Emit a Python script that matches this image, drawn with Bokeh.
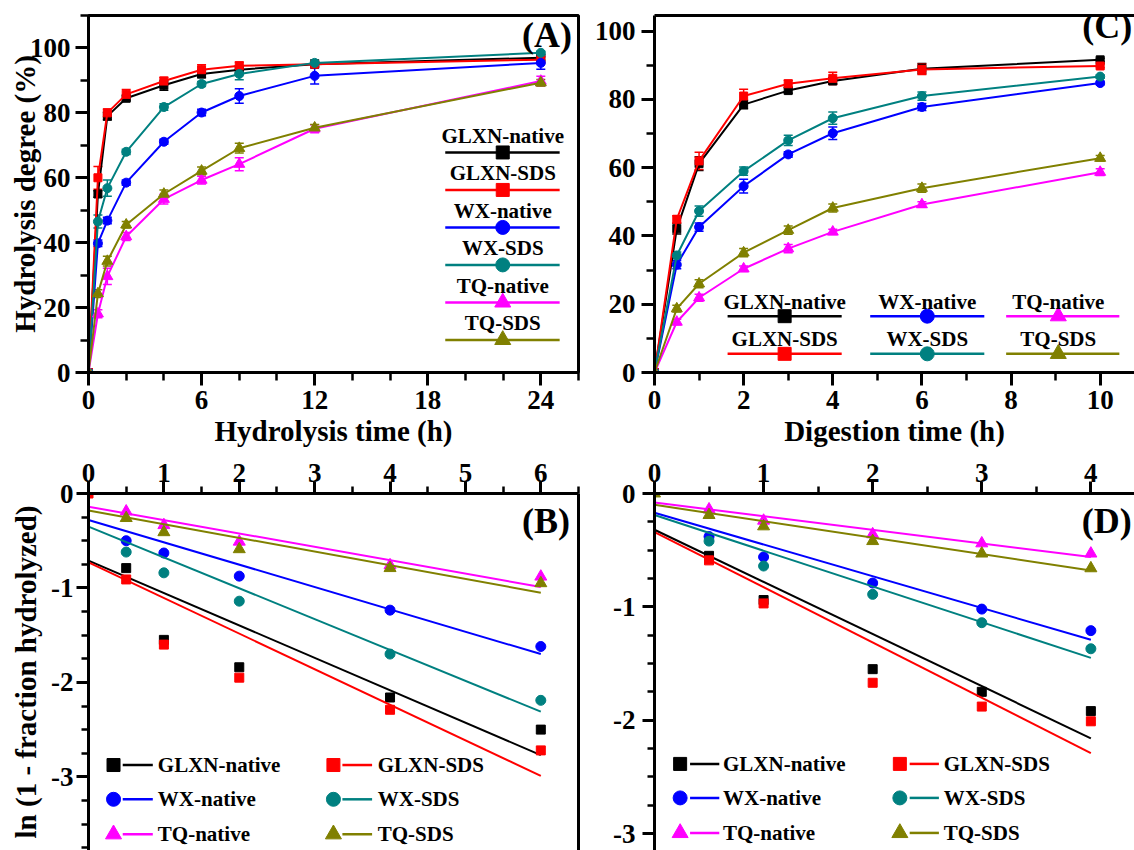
import math
from bokeh.plotting import figure
from bokeh.models import (SingleIntervalTicker, LinearAxis, FixedTicker, Whisker,
                          TeeHead, ColumnDataSource, Range1d, CustomJSTickFormatter)
from bokeh.layouts import column, row
from bokeh.core.properties import value
from bokeh.embed import file_html
from bokeh.resources import INLINE

NAN = float("nan")
FONT = "Liberation Serif"

# ---------------- data ----------------
series_names = ["GLXN-native", "GLXN-SDS", "WX-native", "WX-SDS", "TQ-native", "TQ-SDS"]
series_colors = ["#000000", "#FF0000", "#0000FF", "#008080", "#FF00FF", "#808000"]
series_markers = ["square", "square", "circle", "circle", "triangle", "triangle"]

# (A) hydrolysis degree (%) vs hydrolysis time (h)
A_time = [0, 0.5, 1, 2, 4, 6, 8, 12, 24]
A_glxn_native = [0, 55.0, 79.0, 84.5, 88.5, 92.0, 93.3, 95.0, 97.0]
A_glxn_sds = [0, 60.0, 80.0, 85.7, 89.8, 93.3, 94.5, 95.0, 96.4]
A_wx_native = [0, 39.8, 46.8, 58.5, 71.1, 80.1, 85.2, 91.4, 95.4]
A_wx_sds = [0, 46.5, 56.8, 68.0, 81.8, 88.9, 92.0, 95.4, 98.5]
A_tq_native = [0, 18.1, 29.6, 41.9, 53.4, 59.3, 64.2, 75.1, 89.8]
A_tq_sds = [0, 24.3, 34.3, 45.5, 55.0, 62.1, 69.1, 75.4, 89.3]
A_err_glxn_native = [0, 1.0, 1.2, 0.8, 1.5, 1.2, 1.2, 0.8, 0.8]
A_err_glxn_sds = [0, 3.5, 1.2, 1.5, 1.2, 1.5, 1.2, 0.5, 0.8]
A_err_wx_native = [0, 1.0, 1.0, 0.8, 0.8, 1.0, 2.2, 2.5, 2.0]
A_err_wx_sds = [0, 2.0, 2.5, 0.8, 1.0, 0.8, 1.8, 1.0, 0.5]
A_err_tq_native = [0, 1.2, 2.5, 1.2, 1.5, 1.2, 2.0, 1.2, 1.5]
A_err_tq_sds = [0, 1.2, 1.5, 1.0, 1.2, 1.2, 1.5, 1.0, 1.0]

# (C) hydrolysis degree (%) vs digestion time (h)
C_time = [0, 0.5, 1, 2, 3, 4, 6, 10]
C_glxn_native = [0, 42.1, 61.2, 78.5, 82.6, 85.4, 89.0, 91.6]
C_glxn_sds = [0, 44.9, 62.0, 81.0, 84.6, 86.2, 88.8, 89.8]
C_wx_native = [0, 31.6, 42.6, 54.6, 63.9, 70.1, 77.8, 84.8]
C_wx_sds = [0, 34.3, 47.3, 59.0, 68.0, 74.5, 81.0, 86.7]
C_tq_native = [0, 14.8, 21.9, 30.4, 36.3, 41.2, 49.2, 58.7]
C_tq_sds = [0, 18.7, 26.0, 35.1, 41.7, 48.2, 54.0, 62.8]
C_err_glxn_native = [0, 1.5, 2.0, 1.2, 0.8, 0.8, 1.5, 0.5]
C_err_glxn_sds = [0, 1.0, 2.5, 2.0, 1.0, 1.8, 1.5, 0.5]
C_err_wx_native = [0, 1.2, 1.2, 2.0, 0.8, 1.8, 1.0, 0.5]
C_err_wx_sds = [0, 1.0, 1.5, 1.2, 1.5, 1.8, 1.2, 0.5]
C_err_tq_native = [0, 0.8, 1.0, 0.8, 1.2, 0.8, 0.8, 1.0]
C_err_tq_sds = [0, 1.0, 1.2, 1.2, 1.2, 1.2, 1.2, 0.8]

# (B) ln(1 - fraction hydrolyzed) vs hydrolysis time (h)
B_time = [0, 0.5, 1, 2, 4, 6]
B_glxn_native = [NAN, -0.79, -1.55, -1.84, -2.16, -2.50]
B_glxn_sds = [0.0, -0.91, -1.60, -1.95, -2.29, -2.72]
B_wx_native = [NAN, -0.50, -0.63, -0.875, -1.235, -1.62]
B_wx_sds = [NAN, -0.62, -0.84, -1.14, -1.70, -2.19]
B_tq_native = [NAN, -0.19, -0.335, -0.51, -0.76, -0.88]
B_tq_sds = [NAN, -0.26, -0.41, -0.59, -0.79, -0.95]
B_fit_time = [0, 6]
B_fit_start = [-0.71, -0.73, -0.28, -0.35, -0.14, -0.18]
B_fit_end = [-2.77, -2.99, -1.70, -2.31, -0.99, -1.05]

# (D) ln(1 - fraction hydrolyzed) vs digestion time (h)
D_time = [0, 0.5, 1, 2, 3, 4]
D_glxn_native = [NAN, -0.55, -0.94, -1.55, -1.75, -1.92]
D_glxn_sds = [NAN, -0.59, -0.97, -1.67, -1.88, -2.01]
D_wx_native = [NAN, -0.38, -0.56, -0.79, -1.02, -1.21]
D_wx_sds = [NAN, -0.42, -0.64, -0.89, -1.14, -1.37]
D_tq_native = [NAN, -0.14, -0.24, -0.36, -0.44, -0.53]
D_tq_sds = [0.0, -0.19, -0.29, -0.42, -0.53, -0.66]
D_fit_time = [0, 4]
D_fit_start = [-0.32, -0.34, -0.17, -0.19, -0.08, -0.10]
D_fit_end = [-2.16, -2.29, -1.29, -1.45, -0.56, -0.68]

A_series = [A_glxn_native, A_glxn_sds, A_wx_native, A_wx_sds, A_tq_native, A_tq_sds]
A_errs = [A_err_glxn_native, A_err_glxn_sds, A_err_wx_native, A_err_wx_sds, A_err_tq_native, A_err_tq_sds]
C_series = [C_glxn_native, C_glxn_sds, C_wx_native, C_wx_sds, C_tq_native, C_tq_sds]
C_errs = [C_err_glxn_native, C_err_glxn_sds, C_err_wx_native, C_err_wx_sds, C_err_tq_native, C_err_tq_sds]
B_series = [B_glxn_native, B_glxn_sds, B_wx_native, B_wx_sds, B_tq_native, B_tq_sds]
D_series = [D_glxn_native, D_glxn_sds, D_wx_native, D_wx_sds, D_tq_native, D_tq_sds]

MARK_SIZE = {"square": 8, "circle": 9, "triangle": 11}
LEG_SIZE = {"square": 13, "circle": 14, "triangle": 16}


# ---------------- helpers ----------------
def make_fig(w, h, xr, yr, mbl, mbr, mbt, mbb, x_loc):
    p = figure(width=w, height=h, x_range=Range1d(*xr), y_range=Range1d(*yr),
               output_backend="svg", toolbar_location=None, x_axis_location=x_loc,
               min_border_left=mbl, min_border_right=mbr, min_border_top=mbt,
               min_border_bottom=mbb)
    p.grid.visible = False
    p.background_fill_color = "white"
    p.border_fill_color = "white"
    p.outline_line_color = "black"
    p.outline_line_width = 3
    return p


def style_axis(ax, ticker, tick_len=13, minor_len=8, standoff=4, label_standoff=2):
    ax.ticker = ticker
    ax.axis_line_width = 3
    ax.axis_line_color = "black"
    ax.major_tick_line_width = 3
    ax.minor_tick_line_width = 2.5
    ax.major_tick_in = 0
    ax.major_tick_out = tick_len
    ax.minor_tick_in = 0
    ax.minor_tick_out = minor_len
    ax.major_label_text_font = FONT
    ax.major_label_text_font_style = "bold"
    ax.major_label_text_font_size = "27px"
    ax.major_label_text_color = "black"
    ax.axis_label_text_font = FONT
    ax.axis_label_text_font_style = "bold"
    ax.axis_label_text_font_size = "29px"
    ax.axis_label_text_color = "black"
    ax.major_label_standoff = standoff
    ax.axis_label_standoff = label_standoff
    ax.formatter = CustomJSTickFormatter(code="return tick.toFixed(0);")


def border_axis(p, side):
    ax = LinearAxis(ticker=FixedTicker(ticks=[]))
    ax.axis_line_width = 3
    ax.axis_line_color = "black"
    ax.major_tick_out = 0
    ax.major_tick_in = 0
    ax.minor_tick_out = 0
    ax.minor_tick_in = 0
    ax.major_label_standoff = 0
    p.add_layout(ax, side)


def draw_curves(p, xs, series, errs):
    for vals, err, c, m in zip(series, errs, series_colors, series_markers):
        p.line(xs, vals, line_color=c, line_width=2)
        upper = [v + e for v, e in zip(vals, err)]
        lower = [v - e for v, e in zip(vals, err)]
        src = ColumnDataSource(dict(x=xs, upper=upper, lower=lower))
        p.add_layout(Whisker(source=src, base="x", upper="upper", lower="lower",
                             line_color=c, line_width=1.5,
                             upper_head=TeeHead(size=9, line_color=c, line_width=1.5),
                             lower_head=TeeHead(size=9, line_color=c, line_width=1.5)))
        p.scatter(xs, vals, marker=m, size=MARK_SIZE[m], fill_color=c, line_color=c)


def draw_linear(p, xs, series, fit_x, starts, ends):
    for vals, s, e, c, m in zip(series, starts, ends, series_colors, series_markers):
        p.line(fit_x, [s, e], line_color=c, line_width=2)
        p.scatter(xs, vals, marker=m, size=MARK_SIZE[m] + 1, fill_color=c, line_color=c)


def txt(p, x, y, s, size, align="center"):
    p.text(x=[x], y=[y], text=[s], text_font=value(FONT), text_font_style="bold",
           text_font_size=size, text_align=align, text_baseline="middle",
           text_color="black")


def stacked_entry(p, x0, x1, xm, y, dy, name, c, m):
    p.segment(x0=[x0], y0=[y], x1=[x1], y1=[y], line_color=c, line_width=2.5)
    p.scatter([xm], [y], marker=m, size=LEG_SIZE[m], fill_color=c, line_color=c)
    txt(p, xm, y + dy, name, "21px")


def inline_entry(p, xm, x0, x1, xt, y, name, c, m):
    p.scatter([xm], [y], marker=m, size=LEG_SIZE[m], fill_color=c, line_color=c)
    p.segment(x0=[x0], y0=[y], x1=[x1], y1=[y], line_color=c, line_width=2.5)
    txt(p, xt, y, name, "21px", align="left")


TOP_H = 450
BOT_H = 400

# ---------------- panel A ----------------
pA = make_fig(580, TOP_H, (0, 26), (0, 110), 88, 2, 15, TOP_H - 372, "below")
draw_curves(pA, A_time, A_series, A_errs)
pA.below[0].axis_label = "Hydrolysis time (h)"
pA.left[0].axis_label = "Hydrolysis degree (%)"
style_axis(pA.below[0], SingleIntervalTicker(interval=6, num_minor_ticks=3),
           standoff=5, label_standoff=3)
style_axis(pA.left[0], SingleIntervalTicker(interval=20, num_minor_ticks=2),
           standoff=5, label_standoff=-14)
for i in range(6):
    stacked_entry(pA, 18.93, 25.0, 21.98, 67.8 - i * 11.55, 5.1,
                  series_names[i], series_colors[i], series_markers[i])
txt(pA, 23.0, 103.9, "(A)", "36px", align="left")

# ---------------- panel C ----------------
pC = make_fig(554, TOP_H, (0, 10.77), (0, 104.6), 74, 0, 15, TOP_H - 372, "below")
pC.outline_line_color = None
border_axis(pC, "above")
draw_curves(pC, C_time, C_series, C_errs)
pC.below[0].axis_label = "Digestion time (h)"
style_axis(pC.below[0], SingleIntervalTicker(interval=2, num_minor_ticks=2),
           standoff=5, label_standoff=3)
style_axis(pC.left[0], SingleIntervalTicker(interval=20, num_minor_ticks=2),
           standoff=6)
cols_C = [(1.64, 4.20, 2.92), (4.84, 7.40, 6.12), (7.89, 10.43, 9.06)]
rows_C = [16.5, 5.47]
for k in range(3):
    for r in range(2):
        i = 2 * k + r
        x0, x1, xm = cols_C[k]
        stacked_entry(pC, x0, x1, xm, rows_C[r], 4.3,
                      series_names[i], series_colors[i], series_markers[i])
txt(pC, 9.6, 101.5, "(C)", "36px", align="left")

# ---------------- panel B ----------------
pB = make_fig(580, BOT_H, (0, 6.5), (-3.78, 0), 88, 2, 493 - TOP_H, 0, "above")
pB.outline_line_color = None
border_axis(pB, "right")
draw_linear(pB, B_time, B_series, B_fit_time, B_fit_start, B_fit_end)
pB.left[0].axis_label = "ln (1 - fraction hydrolyzed)"
style_axis(pB.above[0], SingleIntervalTicker(interval=1, num_minor_ticks=2),
           12, 7, standoff=0)
style_axis(pB.left[0], SingleIntervalTicker(interval=1, num_minor_ticks=4),
           12, 7, standoff=3, label_standoff=6)
legB_cols = [(0.332, 0.454, 0.853, 0.920), (3.249, 3.368, 3.762, 3.837)]
legB_rows = [-2.875, -3.238, -3.608]
for r in range(3):
    for k in range(2):
        i = 2 * r + k
        xm, x0, x1, xt = legB_cols[k]
        inline_entry(pB, xm, x0, x1, xt, legB_rows[r],
                     series_names[i], series_colors[i], series_markers[i])
txt(pB, 5.75, -0.293, "(B)", "36px", align="left")

# ---------------- panel D ----------------
pD = make_fig(554, BOT_H, (0, 4.40), (-3.15, 0), 74, 0, 493 - TOP_H, 0, "above")
pD.outline_line_color = None
draw_linear(pD, D_time, D_series, D_fit_time, D_fit_start, D_fit_end)
style_axis(pD.above[0], SingleIntervalTicker(interval=1, num_minor_ticks=2),
           12, 7, standoff=0)
style_axis(pD.left[0], SingleIntervalTicker(interval=1, num_minor_ticks=4),
           12, 7, standoff=7)
legD_cols = [(0.235, 0.326, 0.594, 0.628), (2.249, 2.339, 2.607, 2.651)]
legD_rows = [-2.386, -2.686, -2.995]
for r in range(3):
    for k in range(2):
        i = 2 * r + k
        xm, x0, x1, xt = legD_cols[k]
        inline_entry(pD, xm, x0, x1, xt, legD_rows[r],
                     series_names[i], series_colors[i], series_markers[i])
txt(pD, 3.916, -0.247, "(D)", "36px", align="left")

layout = column(row(pA, pC), row(pB, pD))
open("out.html", "w").write(file_html(layout, INLINE))
